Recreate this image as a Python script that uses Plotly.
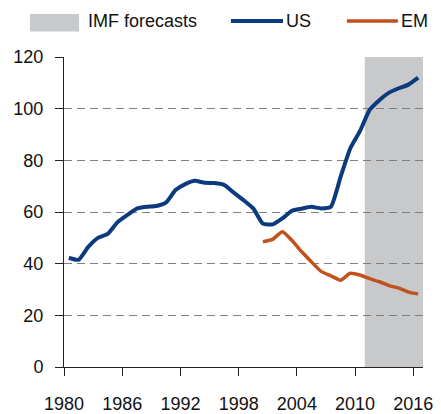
import plotly.graph_objects as go

# data
us_years = list(range(1980, 2017))
us_values = [42.3, 41.5, 46.5, 50.0, 51.5, 56.0, 58.8, 61.3, 62.0, 62.3,
             63.6, 68.5, 70.8, 72.1, 71.3, 71.2, 70.5, 67.5, 64.6, 61.4,
             55.5, 55.2, 57.5, 60.5, 61.3, 62.0, 61.4, 62.0, 73.5, 84.6,
             91.3, 99.5, 103.3, 106.2, 107.9, 109.3, 112.0]
em_years = list(range(2000, 2017))
em_values = [48.5, 49.4, 52.4, 49.0, 44.6, 40.7, 37.0, 35.3, 33.6, 36.3,
             35.6, 34.2, 33.0, 31.5, 30.5, 29.0, 28.3]
forecast_start, forecast_end = 2011, 2017
x_ticks = [1980, 1986, 1992, 1998, 2004, 2010, 2016]

US_COL = "#0b3a7e"
EM_COL = "#c0521f"
SHADE = "#c8c9cb"
FONT = "Liberation Sans, Arial, sans-serif"

fig = go.Figure()

# points sit in the middle of each year slot
fig.add_trace(go.Scatter(x=[y + 0.5 for y in us_years], y=us_values, mode="lines",
                         line=dict(color=US_COL, width=4, shape="spline", smoothing=0.5),
                         name="US", showlegend=False))
fig.add_trace(go.Scatter(x=[y + 0.5 for y in em_years], y=em_values, mode="lines",
                         line=dict(color=EM_COL, width=3.5, shape="spline", smoothing=0.5),
                         name="EM", showlegend=False))

# forecast shading, above the grid but below lines
fig.add_shape(type="rect", xref="x", yref="paper", x0=forecast_start, x1=forecast_end,
              y0=0, y1=1, fillcolor=SHADE, line_width=0, layer="between")

# hand-made legend on top
fig.add_shape(type="rect", xref="paper", yref="paper", x0=-0.095, x1=0.042,
              y0=1.082, y1=1.139, fillcolor=SHADE, line_width=0)
fig.add_shape(type="line", xref="paper", yref="paper", x0=0.465, x1=0.61,
              y0=1.116, y1=1.116, line=dict(color=US_COL, width=4))
fig.add_shape(type="line", xref="paper", yref="paper", x0=0.788, x1=0.93,
              y0=1.116, y1=1.116, line=dict(color=EM_COL, width=3.5))
for txt, xp in [("IMF forecasts", 0.061), ("US", 0.614), ("EM", 0.934)]:
    fig.add_annotation(text=txt, xref="paper", yref="paper", x=xp, y=1.116,
                       xanchor="left", yanchor="middle", showarrow=False,
                       font=dict(size=18, color="#111", family=FONT))

fig.update_xaxes(range=[1980, 2017], tickvals=x_ticks, showgrid=False,
                 showline=True, linecolor="#222", linewidth=1,
                 ticks="outside", ticklen=8, tickcolor="#222",
                 ticklabelstandoff=12, zeroline=False)
fig.update_yaxes(range=[0, 120], dtick=20, showgrid=True, gridcolor="#7f7f7f",
                 griddash="8px,5px", gridwidth=1,
                 showline=True, linecolor="#222", linewidth=1,
                 ticks="outside", ticklen=8, tickcolor="#222",
                 ticklabelstandoff=8, zeroline=False)

# page body has an 8px margin, so the figure is trimmed to fit the window
fig.update_layout(width=433, height=406,
                  margin=dict(l=56, r=18, t=49, b=47, autoexpand=False),
                  plot_bgcolor="white", paper_bgcolor="white",
                  font=dict(family=FONT, size=18, color="#111"),
                  showlegend=False)

fig.write_html("out.html")
